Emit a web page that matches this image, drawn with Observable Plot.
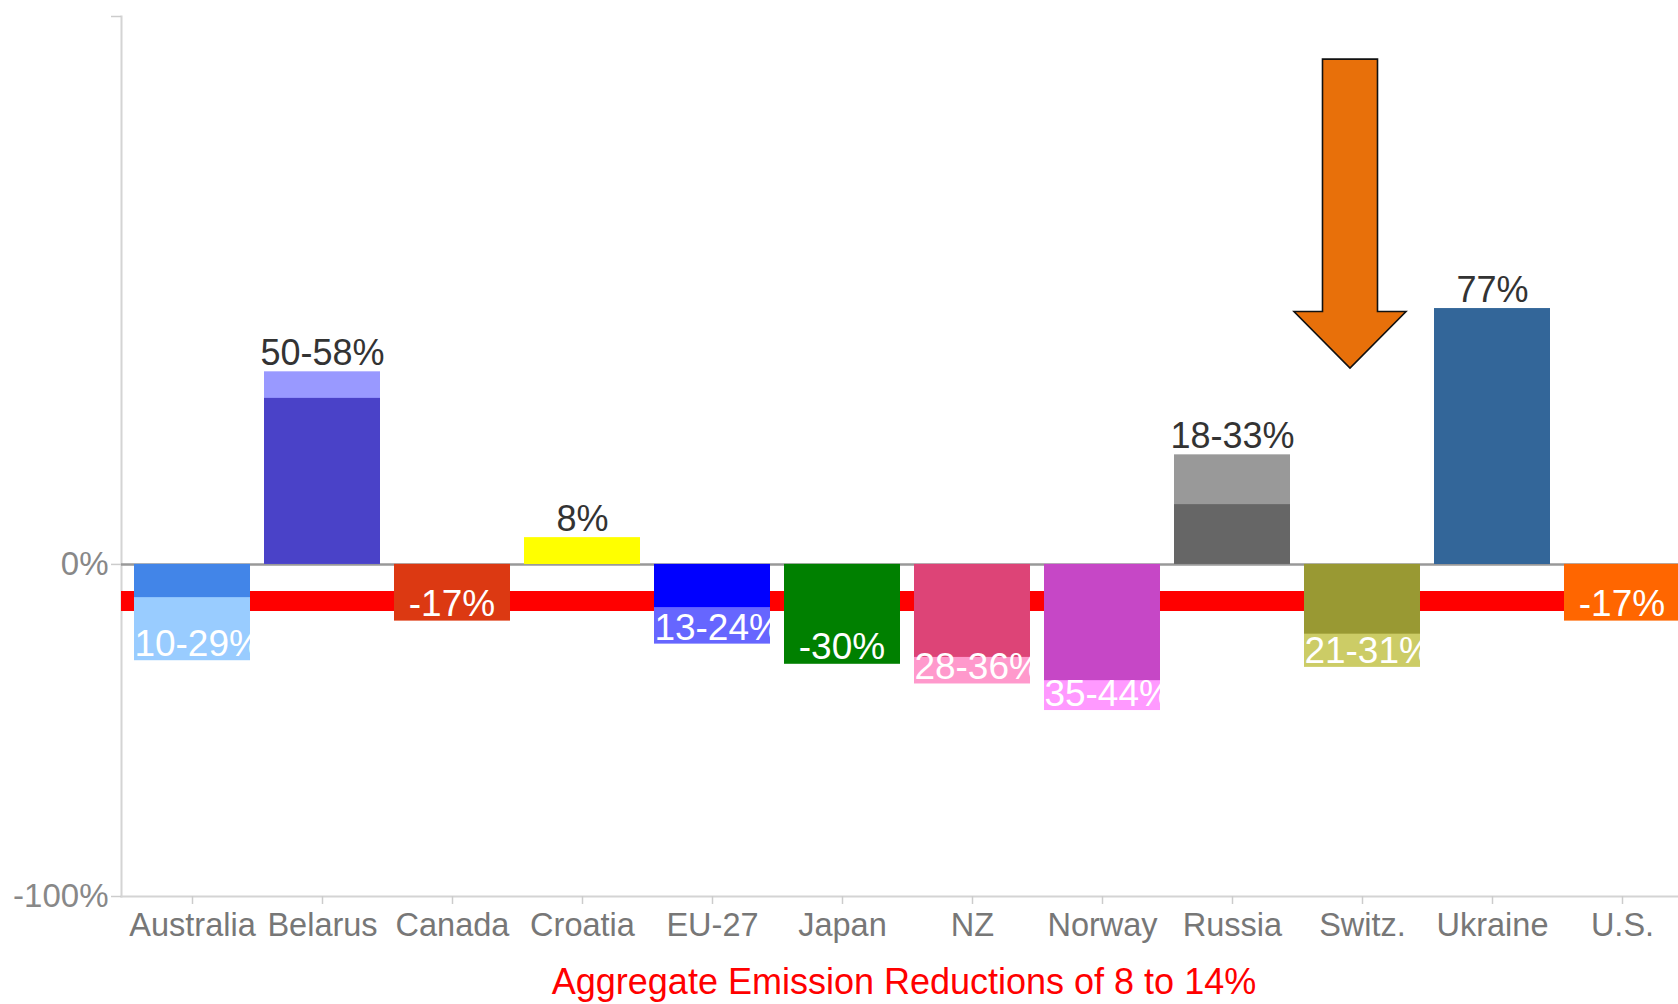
<!DOCTYPE html>
<html>
<head>
<meta charset="utf-8">
<script src="https://cdn.jsdelivr.net/npm/d3@7"></script>
<script src="https://cdn.jsdelivr.net/npm/@observablehq/plot@0.6"></script>
<style>
  html, body { margin: 0; padding: 0; background: #fff; overflow: hidden; }
  #chart svg { display: block; }
  #caption {
    font-family: "Liberation Sans", Arial, sans-serif;
    font-size: 36px; color: #ff0000; line-height: 44px; height: 44px;
    width: 1678px; box-sizing: border-box; padding-left: 130px;
    text-align: center; white-space: nowrap;
  }
</style>
</head>
<body>
<div id="chart"></div>
<div id="caption"></div>
<script>
// ---- data ----
const countries = ["Australia", "Belarus", "Canada", "Croatia", "EU-27", "Japan", "NZ", "Norway", "Russia", "Switz.", "Ukraine", "U.S."];
const innerValues = [-10, 50, -17, 8, -13, -30, -28, -35, 18, -21, 77, -17];
const outerValues = [-29, 58, -17, 8, -24, -30, -36, -44, 33, -31, 77, -17];
const valueLabels = ["-10-29%", "50-58%", "-17%", "8%", "-13-24%", "-30%", "-28-36%", "-35-44%", "18-33%", "-21-31%", "77%", "-17%"];
const innerColors = ["#4285e8", "#4a42c8", "#dc3912", "#ffff00", "#0000ff", "#008000", "#dd4477", "#c647c6", "#666666", "#999933", "#336699", "#ff6600"];
const outerColors = ["#99ccff", "#9999ff", "#dc3912", "#ffff00", "#6666ff", "#008000", "#ff99cc", "#ff99ff", "#999999", "#cccc66", "#336699", "#ff6600"];
const aggregateReduction = [-11];
const yTicks = [-100, 0, 165];
const captionText = "Aggregate Emission Reductions of 8 to 14%";
const arrowCountry = "Switz.";
const arrowValues = {top: 152, shoulder: 76, tip: 59};

// ---- build ----
const FONT = '"Liberation Sans", Arial, sans-serif';
const rows = countries.map((c, i) => ({
  country: c, inner: innerValues[i], outer: outerValues[i], label: valueLabels[i],
  innerColor: innerColors[i], outerColor: outerColors[i]
}));
const posRows = rows.filter(d => d.outer > 0);
const negRows = rows.filter(d => d.outer < 0);

function negativeLabels(index, scales) {
  const x = scales.x, y = scales.y, bw = x.bandwidth();
  const g = d3.create("svg:g").attr("aria-label", "negative value labels");
  const defs = g.append("defs");
  negRows.forEach((d, i) => {
    const id = "neg-clip-" + i;
    defs.append("clipPath").attr("id", id)
      .append("rect")
      .attr("x", x(d.country)).attr("width", bw)
      .attr("y", y(0)).attr("height", y(d.outer) - y(0) + 2);
    g.append("text")
      .attr("clip-path", `url(#${id})`)
      .attr("x", x(d.country) + bw / 2)
      .attr("y", y(d.outer) - 17)
      .attr("dy", "0.35em")
      .attr("text-anchor", "middle")
      .attr("fill", "#ffffff")
      .attr("font-size", 37)
      .attr("font-family", FONT)
      .text(d.label);
  });
  return g.node();
}

function arrowMark(index, scales) {
  const x = scales.x, y = scales.y;
  const cx = x(arrowCountry) + x.bandwidth() / 2 - 12;
  const sw = 27.5, hw = 56;
  const yt = y(arrowValues.top), ys = y(arrowValues.shoulder), yp = y(arrowValues.tip);
  const d = `M${cx - sw},${yt}L${cx + sw},${yt}L${cx + sw},${ys}L${cx + hw},${ys}L${cx},${yp}L${cx - hw},${ys}L${cx - sw},${ys}Z`;
  const g = d3.create("svg:g").attr("aria-label", "arrow");
  g.append("path").attr("d", d).attr("fill", "#e8700a").attr("stroke", "#111").attr("stroke-width", 1.6).attr("stroke-linejoin", "miter");
  return g.node();
}

const chart = Plot.plot({
  width: 1678,
  height: 960,
  marginLeft: 121,
  marginRight: 0,
  marginTop: 16,
  marginBottom: 64,
  style: {fontFamily: FONT, background: "#fff"},
  x: {domain: countries, range: [123.05, 1690.25], paddingInner: 0.106, paddingOuter: 0.053},
  y: {domain: [-100, 165], range: [896, 16]},
  color: {type: "identity"},
  marks: [
    Plot.frame({anchor: "left", stroke: "#d4d4d4", strokeWidth: 2}),
    Plot.frame({anchor: "bottom", stroke: "#d4d4d4", strokeWidth: 2}),
    Plot.ruleY(aggregateReduction, {stroke: "#ff0000", strokeWidth: 20}),
    Plot.ruleY([0], {stroke: "#999999", strokeWidth: 2.5}),
    Plot.barY(rows, {x: "country", y: "outer", fill: "outerColor"}),
    Plot.barY(rows, {x: "country", y: "inner", fill: "innerColor"}),
    Plot.text(posRows, {x: "country", y: "outer", text: "label", dy: -18, lineAnchor: "middle", fontSize: 36, fill: "#333333"}),
    negativeLabels,
    arrowMark,
    Plot.axisY({ticks: yTicks, tickFormat: d => d === 165 ? "" : d + "%", tickSize: 10, tickPadding: 3, fontSize: 33, fill: "#888888", stroke: "#cccccc", strokeWidth: 1.5, label: null}),
    Plot.axisX({tickSize: 8, tickPadding: 8, fontSize: 32.5, fill: "#777777", stroke: "#cccccc", strokeWidth: 1.5, label: null})
  ]
});
document.getElementById("chart").appendChild(chart);
document.getElementById("caption").textContent = captionText;
</script>
</body>
</html>
